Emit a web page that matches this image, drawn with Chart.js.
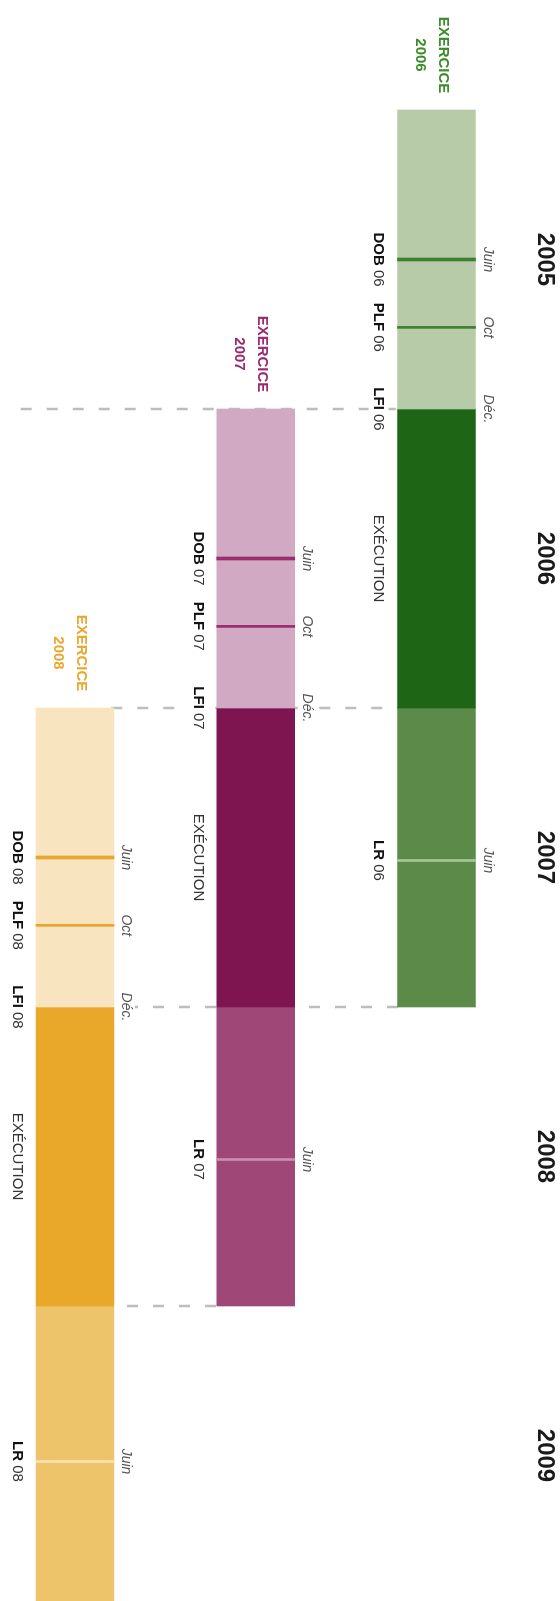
<!DOCTYPE html>
<html><head><meta charset="utf-8">
<script src="https://cdn.jsdelivr.net/npm/chart.js@4"></script>
<style>
html,body{margin:0;padding:0;width:560px;height:1601px;overflow:hidden;background:#fff;}
#wrap{position:absolute;left:0;top:0;width:1601px;height:560px;transform-origin:0 0;transform:translateX(560px) rotate(90deg);}
</style></head><body>
<div id="wrap"><canvas id="c" width="1601" height="560"></canvas></div>
<script>
// ---- data ----
const exercices = ['2006', '2007', '2008'];
const suffixes = ['06', '07', '08'];
const prepStart = [2005, 2006, 2007];
const prepEnd = [2006, 2007, 2008];
const execEnd = [2007, 2008, 2009];
const lrEnd = [2008, 2009, 2010];
const juinMarks = [2005.50, 2006.50, 2007.50];
const octMarks = [2005.727, 2006.727, 2007.727];
const lrJuinMarks = [2007.51, 2008.51, 2009.52];
const yearLabels = ['2005', '2006', '2007', '2008', '2009'];
const yearTicks = [2005.5, 2006.5, 2007.5, 2008.5, 2009.5];
const boundaryYears = [2006, 2007, 2008, 2009];
const boundaryFrom = [3.3, 2.8, 3, 3];
const boundaryTo = [1, 1, 1.2, 2.2];

// ---- styles ----
const prepColors = ['#b8cba9', '#d2a9c2', '#f8e4be'];
const execColors = ['#1f6516', '#7e1450', '#e9a82a'];
const lrColors = ['#5b8a49', '#9f4877', '#eec46a'];
const markColors = ['#3f7f2f', '#9b2d6c', '#e8a530'];
const lrMarkColors = ['#a9c79a', '#c98fb0', '#f8e2b4'];
const titleColors = ['#3d8c2a', '#9c2a6e', '#e8a830'];
const FONT = '"Liberation Sans", Arial, sans-serif';
const PX_PER_YEAR = 299;
const X_MIN = 2005 - 110 / PX_PER_YEAR;
const X_MAX = X_MIN + 1601 / PX_PER_YEAR;
const BAR = 78;

const rows = exercices.map((_, i) => i + 1);

function segment(label, starts, ends, colors) {
  return { type: 'bar', label, data: rows.map((r, i) => ({ x: [starts[i], ends[i]], y: r })),
    backgroundColor: colors, barThickness: BAR, grouped: false, order: 5, borderWidth: 0 };
}
function marker(label, marks, colors, px) {
  const hw = px / 2 / PX_PER_YEAR;
  return { type: 'bar', label, data: rows.map((r, i) => ({ x: [marks[i] - hw, marks[i] + hw], y: r })),
    backgroundColor: colors, barThickness: BAR, grouped: false, order: 1, borderWidth: 0 };
}
const guideLines = boundaryYears.map((b, i) => ({
  type: 'line', label: 'limite ' + b,
  data: [{ x: b, y: boundaryFrom[i] }, { x: b, y: boundaryTo[i] }],
  borderColor: '#bdbdbd', borderWidth: 2.5, borderDash: [11, 15],
  pointRadius: 0, order: 10, indexAxis: 'y'
}));

function drawPair(ctx, boldTxt, restTxt, cx, cy) {
  ctx.font = 'bold 15px ' + FONT;
  const w1 = ctx.measureText(boldTxt).width;
  ctx.font = '15px ' + FONT;
  const w2 = ctx.measureText(restTxt).width;
  const x0 = cx - (w1 + w2) / 2;
  ctx.fillStyle = '#fff';
  ctx.fillRect(x0 - 3, cy - 10, w1 + w2 + 6, 20);
  ctx.textAlign = 'left'; ctx.textBaseline = 'middle';
  ctx.font = 'bold 15px ' + FONT; ctx.fillStyle = '#111';
  ctx.fillText(boldTxt, x0, cy);
  ctx.font = '15px ' + FONT; ctx.fillStyle = '#333';
  ctx.fillText(restTxt, x0 + w1, cy);
}
function drawItalic(ctx, txt, cx, cy) {
  ctx.font = 'italic 14px ' + FONT;
  const w = ctx.measureText(txt).width;
  ctx.fillStyle = '#fff';
  ctx.fillRect(cx - w / 2 - 2, cy - 9, w + 4, 18);
  ctx.fillStyle = '#555'; ctx.textAlign = 'center'; ctx.textBaseline = 'middle';
  ctx.fillText(txt, cx, cy);
}

const labelPlugin = {
  id: 'timelineLabels',
  afterDatasetsDraw(chart) {
    const ctx = chart.ctx, xs = chart.scales.x, ys = chart.scales.y;
    ctx.save();
    rows.forEach((r, i) => {
      const yc = ys.getPixelForValue(r);
      const below = yc + BAR / 2 + 19;
      const above = yc - BAR / 2 - 12;
      const px = v => xs.getPixelForValue(v);
      drawPair(ctx, 'DOB', ' ' + suffixes[i], px(juinMarks[i]), below);
      drawPair(ctx, 'PLF', ' ' + suffixes[i], px(octMarks[i]), below);
      drawPair(ctx, 'LFI', ' ' + suffixes[i], px(prepEnd[i]), below);
      drawPair(ctx, 'LR', ' ' + suffixes[i], px(lrJuinMarks[i]), below);
      drawPair(ctx, '', 'EXÉCUTION', px((prepEnd[i] + execEnd[i]) / 2), below);
      drawItalic(ctx, 'Juin', px(juinMarks[i]), above);
      drawItalic(ctx, 'Oct', px(octMarks[i]), above);
      drawItalic(ctx, 'Déc.', px(prepEnd[i]), above);
      drawItalic(ctx, 'Juin', px(lrJuinMarks[i]), above);
      ctx.font = 'bold 15px ' + FONT;
      ctx.fillStyle = titleColors[i];
      ctx.textAlign = 'center'; ctx.textBaseline = 'middle';
      const tx = px(prepStart[i]) - 55;
      ctx.fillText('EXERCICE', tx, yc - 6.5);
      ctx.fillText(exercices[i], tx, yc + 16.5);
    });
    ctx.restore();
  }
};

new Chart(document.getElementById('c'), {
  data: {
    datasets: [
      ...guideLines,
      segment('Préparation', prepStart, prepEnd, prepColors),
      segment('Exécution', prepEnd, execEnd, execColors),
      segment('Loi de règlement', execEnd, lrEnd, lrColors),
      marker('Juin', juinMarks, markColors, 3),
      marker('Oct', octMarks, markColors, 2),
      marker('Juin LR', lrJuinMarks, lrMarkColors, 2)
    ]
  },
  options: {
    indexAxis: 'y',
    responsive: false,
    devicePixelRatio: 1,
    animation: false,
    layout: { padding: 0 },
    plugins: { legend: { display: false }, tooltip: { enabled: false } },
    scales: {
      x: {
        type: 'linear', position: 'top', min: X_MIN, max: X_MAX, offset: false,
        grid: { display: false, drawTicks: false }, border: { display: false },
        afterBuildTicks: axis => { axis.ticks = yearTicks.map(v => ({ value: v })); },
        afterFit: axis => { axis.height = 40; },
        ticks: { autoSkip: false, maxRotation: 0, minRotation: 0, padding: 10.6, color: '#1a1a1a',
          font: { family: FONT, size: 24, weight: 'bold' },
          callback: (v, i) => yearLabels[i] }
      },
      y: { type: 'linear', display: false, offset: false, reverse: true, min: 0.538, max: 3.415 }
    }
  },
  plugins: [labelPlugin]
});
</script>
</body></html>
